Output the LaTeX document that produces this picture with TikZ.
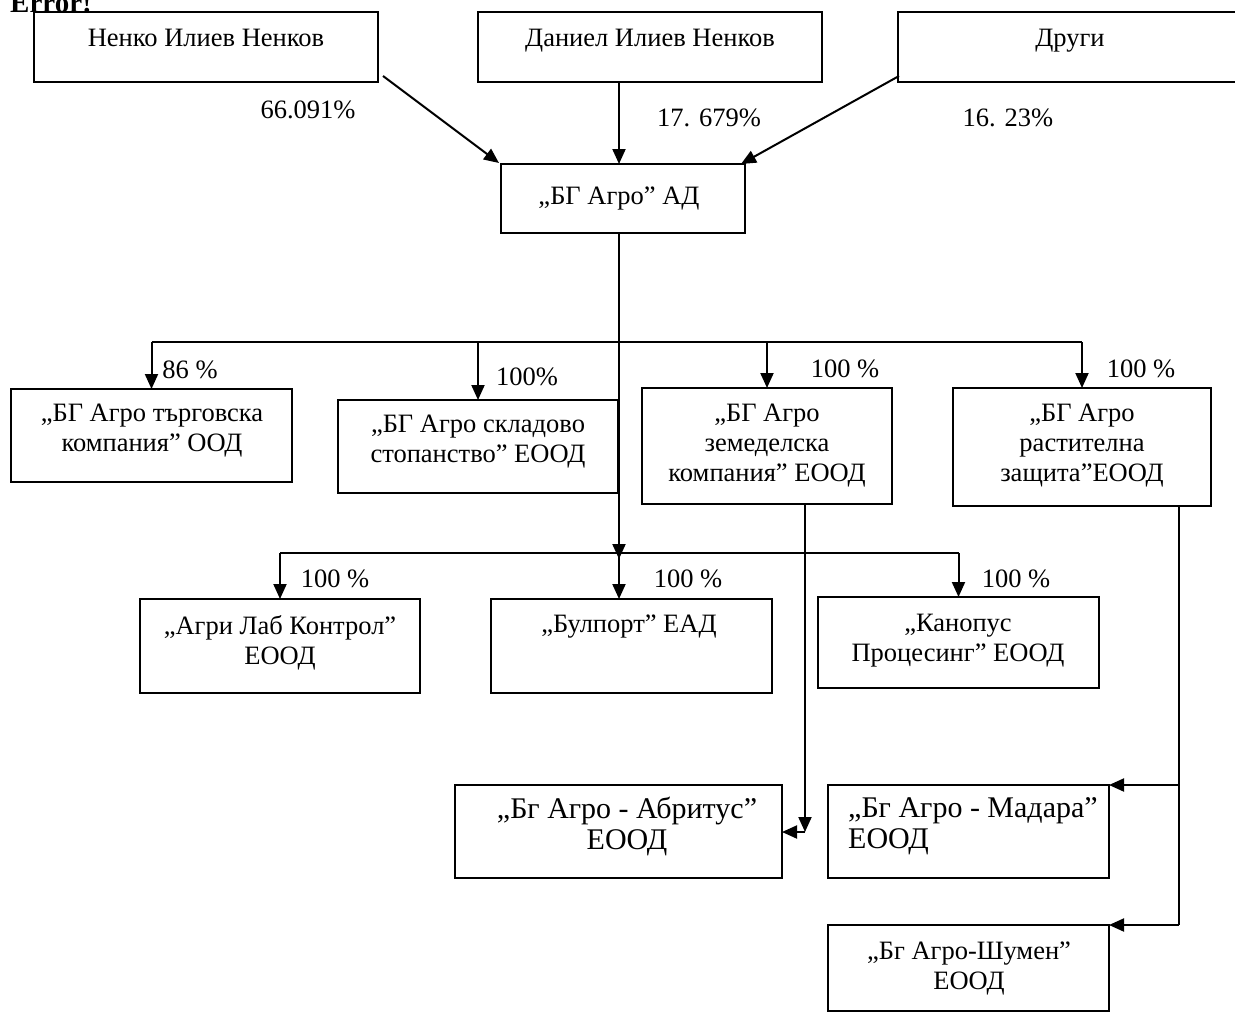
\documentclass[tikz,border=0pt]{standalone}
\usepackage{fontspec}
\setmainfont{Liberation Serif}
\usetikzlibrary{arrows.meta,calc}
\begin{document}
\begin{tikzpicture}[x=1pt,y=-1pt,
  box/.style={draw,line width=2.2pt,anchor=north west,inner sep=0pt,outer sep=0pt},
  txt/.style={font=\fontsize{26.5}{30}\selectfont,inner sep=0pt,align=center,anchor=north},
  gtxt/.style={font=\fontsize{30}{31}\selectfont,inner sep=0pt},
  pct/.style={font=\fontsize{26.5}{30}\selectfont,inner sep=0pt,anchor=base},
  ln/.style={line width=2pt},
  arr/.style={line width=2pt,-{Triangle[length=15pt,width=13pt]}}]
\useasboundingbox (0,0) rectangle (1235,1015);
\fill[white] (0,0) rectangle (1235,1015);

\node[font=\bfseries\fontsize{29}{30}\selectfont,anchor=base west,inner sep=0pt] (err) at (10,12) {Error!};

% boxes
\node[box,minimum width=344pt,minimum height=70pt] (nenko) at (34,12) {};
\node[box,minimum width=344pt,minimum height=70pt] (daniel) at (478,12) {};
\node[box,minimum width=344pt,minimum height=70pt] (drugi) at (898,12) {};
\node[box,minimum width=244pt,minimum height=69pt] (bgad) at (501,164) {};
\node[box,minimum width=281pt,minimum height=93pt] (A) at (11,389) {};
\node[box,minimum width=280pt,minimum height=93pt] (B) at (338,400) {};
\node[box,minimum width=250pt,minimum height=116pt] (C) at (642,388) {};
\node[box,minimum width=258pt,minimum height=118pt] (D) at (953,388) {};
\node[box,minimum width=280pt,minimum height=94pt] (E) at (140,599) {};
\node[box,minimum width=281pt,minimum height=94pt] (F) at (491,599) {};
\node[box,minimum width=281pt,minimum height=91pt] (G) at (818,597) {};
\node[box,minimum width=327pt,minimum height=93pt] (H) at (455,785) {};
\node[box,minimum width=281pt,minimum height=93pt] (I) at (828,785) {};
\node[box,minimum width=281pt,minimum height=86pt] (J) at (828,925) {};

% texts
\node[txt] (nenkot) at (206,29) {Ненко Илиев Ненков};
\node[txt] (danielt) at (650,29) {Даниел Илиев Ненков};
\node[txt] (drugit) at (1070,29) {Други};
\node[txt] (bgadt) at (619,187) {„БГ Агро” АД};
\node[txt] (At) at (152,404) {„БГ Агро търговска\\компания” ООД};
\node[txt] (Bt) at (478,415) {„БГ Агро складово\\стопанство” ЕООД};
\node[txt] (Ct) at (767,404) {„БГ Агро\\земеделска\\компания” ЕООД};
\node[txt] (Dt) at (1082,404) {„БГ Агро\\растителна\\защита”ЕООД};
\node[txt] (Et) at (280,615) {„Агри Лаб Контрол”\\ЕООД};
\node[txt] (Ft) at (629,615) {„Булпорт” ЕАД};
\node[txt] (Gt) at (958,614) {„Канопус\\Процесинг” ЕООД};
\node[gtxt,align=center,anchor=north] (Ht) at (627,797) {„Бг Агро - Абритус”\\ЕООД};
\node[gtxt,align=left,anchor=north west] (It) at (848,797) {„Бг Агро - Мадара”\\ЕООД};
\node[txt] (Jt) at (969,942) {„Бг Агро-Шумен”\\ЕООД};

% percentages
\node[pct] (p1) at (308,118) {66.091\%};
\node[pct] (p2) at (709,126) {17. 679\%};
\node[pct] (p3) at (1008,126) {16. 23\%};
\node[pct] (pA) at (190,378) {86 \%};
\node[pct] (pB) at (527,385) {100\%};
\node[pct] (pC) at (845,377) {100 \%};
\node[pct] (pD) at (1141,377) {100 \%};
\node[pct] (pE) at (335,587) {100 \%};
\node[pct] (pF) at (688,587) {100 \%};
\node[pct] (pG) at (1016,587) {100 \%};

% helper coordinates
\coordinate (mx) at (619,0);
\coordinate (b1) at (0,342);
\coordinate (b2) at (0,553);
\coordinate (cv) at (805,0);
\coordinate (hc) at (805,832);
\coordinate (dv) at (1179,0);

% top connectors
\draw[arr] ($(nenko.south east)+(5,-6)$) -- ($(bgad.north west)+(-2,-1)$);
\draw[arr] (mx |- daniel.south) -- (mx |- bgad.north);
\draw[arr] ($(drugi.south west)+(1,-6)$) -- ($(bgad.north east)+(-4,0)$);

% trunk
\draw[ln] (mx |- bgad.south) -- (mx |- b1);
\draw[arr] (mx |- b1) -- ($(mx |- b2)+(0,6)$);
\draw[arr] (mx |- b2) -- (mx |- F.north);

% bus 1
\draw[ln] (b1 -| A.north) -- (b1 -| D.north);
\draw[arr] (b1 -| A.north) -- (A.north);
\draw[arr] (b1 -| B.north) -- (B.north);
\draw[arr] (b1 -| C.north) -- (C.north);
\draw[arr] (b1 -| D.north) -- (D.north);

% bus 2
\draw[ln] (b2 -| E.north) -- (b2 -| G.north);
\draw[arr] (b2 -| E.north) -- (E.north);
\draw[arr] (b2 -| G.north) -- (G.north);

% C -> Abritus
\draw[arr] (cv |- C.south) -- (hc);
\draw[arr] (hc) -- (hc -| H.east);

% D -> Madara, Shumen
\draw[ln] (dv |- D.south) -- (dv |- J.north);
\draw[arr] (dv |- I.north) -- (I.north east);
\draw[arr] (dv |- J.north) -- (J.north east);
\end{tikzpicture}
\end{document}
